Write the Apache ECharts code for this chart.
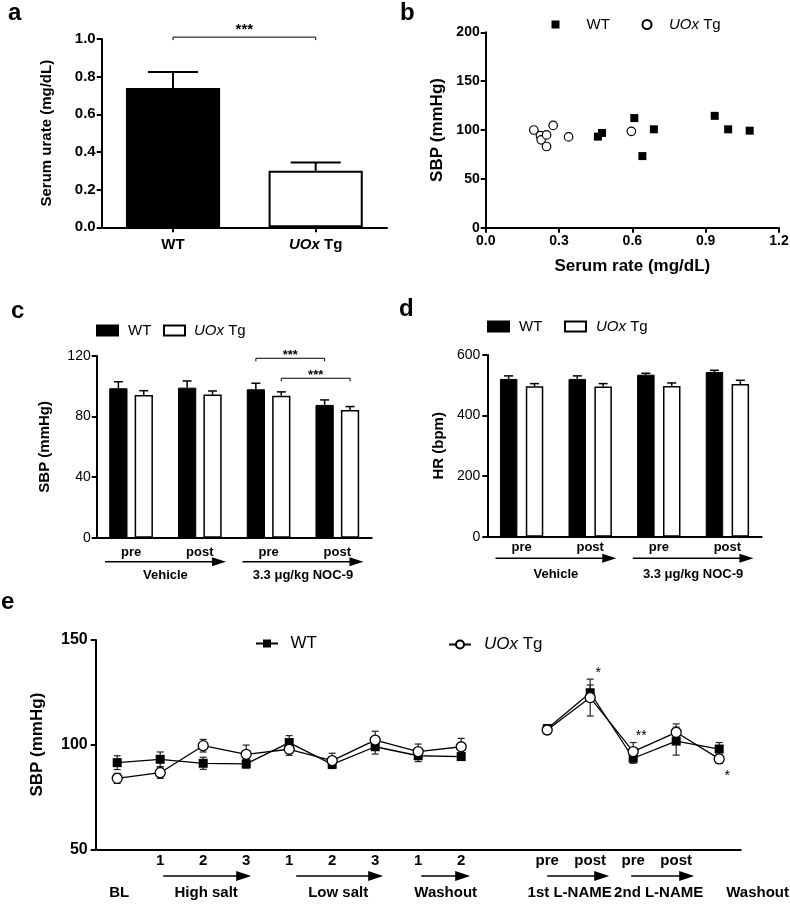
<!DOCTYPE html>
<html><head><meta charset="utf-8">
<script src="https://cdn.jsdelivr.net/npm/echarts@6/dist/echarts.min.js"></script>
<style>html,body{margin:0;padding:0;background:#fff}#c{width:790px;height:904px}</style>
</head><body><div id="c"></div>
<script>
// ---------------- DATA ----------------
// Panel a
const aCategories = ['WT', 'UOx Tg'];
const aMeans = [0.74, 0.30];
const aSEM = [0.085, 0.044];
const aSig = [[0, 1, 1.01, '***']];

// Panel b
const bWT_urate = [0.459, 0.476, 0.608, 0.641, 0.688, 0.937, 0.992, 1.080];
const bWT_sbp   = [93.2, 97.0, 112.2, 73.3, 100.7, 114.5, 100.7, 99.3];
const bTg_urate = [0.197, 0.224, 0.227, 0.249, 0.249, 0.276, 0.339, 0.596];
const bTg_sbp   = [100.0, 94.3, 89.9, 95.0, 83.1, 104.7, 92.9, 98.6];

// Panels c and d
const cdTickLabels = ['pre', 'post', 'pre', 'post'];
const cdGroups = [['Vehicle', 0, 1], ['3.3 \u03bcg/kg NOC-9', 2, 3]];
const cWT = [98.7, 99.1, 98.0, 87.7];
const cWT_sem = [4.3, 4.4, 4.0, 3.3];
const cTg = [94.3, 94.5, 93.8, 84.4];
const cTg_sem = [2.8, 2.4, 2.5, 2.2];
const cSig = [[2, 3, 118.5, -1, '***'], [2, 3, 105.3, 1, '***']];
const dWT = [521, 521, 535, 544];
const dWT_sem = [10, 10, 4.6, 5.5];
const dTg = [496.7, 495.6, 497.8, 504.4];
const dTg_sem = [8.8, 9.9, 9.9, 12.1];

// Panel e
const eTickLabels = ['', '1', '2', '3', '1', '2', '3', '1', '2', '', 'pre', 'post', 'pre', 'post', ''];
const eWT     = [91.4, 93.0, 91.1, 90.8, 101.0, 90.6, 99.0, 94.7, 94.3, null, 107.6, 124.8, 93.5, 101.7, 97.9];
const eWT_sem = [3.3, 3.5, 2.9, 2.0, 3.3, 2.0, 3.5, 2.8, 1.5, null, 2.0, 3.7, 2.4, 6.7, 3.1];
const eTg     = [83.9, 86.6, 99.5, 95.4, 97.8, 92.4, 102.2, 96.7, 99.0, null, 107.0, 122.5, 96.7, 105.9, 93.2];
const eTg_sem = [2.4, 2.7, 3.0, 4.4, 2.9, 3.5, 4.2, 3.6, 4.0, null, 2.0, 8.8, 4.3, 4.0, 2.0];
const eGroups = [['BL', 0, 0, false], ['High salt', 1, 3, true], ['Low salt', 4, 6, true], ['Washout', 7, 8, true],
                 ['1st L-NAME', 10, 11, true], ['2nd L-NAME', 12, 13, true], ['Washout', 14, 14, false]];
const eSig = [['*', 11, 135.7], ['**', 12, 105.4], ['*', 14, 86.6]];

// ---------------- STYLE / LAYOUT ----------------
const FONT = '"Liberation Sans", Arial, Helvetica, sans-serif';
const BLK = '#000';
// pixel nudges for e group arrows/labels: [arrowStart, arrowEnd, labelDx, align]
const eLayout = [[0,0,2,'center'],[3,5,3,'center'],[7,8,6,'center'],[3,9,6,'center'],[0,19,1,'center'],[-2,18,4,'center'],[0,0,7,'left']];

function merge(a, b) {
  const o = Object.assign({}, a);
  for (const k in b) {
    if (b[k] && typeof b[k] === 'object' && !Array.isArray(b[k]) && a[k] && typeof a[k] === 'object' && !Array.isArray(a[k])) o[k] = merge(a[k], b[k]);
    else o[k] = b[k];
  }
  return o;
}
function axisBase(gi) {
  return {
    gridIndex: gi,
    axisLine: {show: true, onZero: false, lineStyle: {color: BLK, width: 2}},
    axisTick: {show: true, length: 5, inside: false, lineStyle: {color: BLK, width: 2}},
    axisLabel: {color: BLK, fontFamily: FONT, fontWeight: 'bold', fontSize: 15, margin: 6},
    splitLine: {show: false},
    nameTextStyle: {color: BLK, fontFamily: FONT, fontWeight: 'bold', fontSize: 15},
    nameMoveOverlap: false
  };
}
const italicRich = (fs, fw) => ({i: {fontStyle: 'italic', fontWeight: fw, fontSize: fs, fontFamily: FONT, color: BLK}});
function labelFor(n) { return n.indexOf('Tg') >= 0 ? '{i|UOx} Tg' : 'WT'; }

function txt(text, x, y, fs, align, weight) {
  return {type: 'text', x: x, y: y, style: {text: text, fill: BLK, fontSize: fs, fontFamily: FONT, fontWeight: weight || 'bold', align: align || 'center', verticalAlign: 'middle'}};
}
function arrow(x1, x2, y, head, half, lw) {
  return [
    {type: 'line', shape: {x1: x1, y1: y, x2: x2 - head + 1, y2: y}, style: {stroke: BLK, lineWidth: lw}},
    {type: 'polygon', shape: {points: [[x2 - head, y - half], [x2, y], [x2 - head, y + half]]}, style: {fill: BLK}}
  ];
}

// error bars for grouped bars (upward only)
function barErr(gi, vals, sems, side, frac, gapFrac, capW, lw) {
  return {
    type: 'custom', xAxisIndex: gi, yAxisIndex: gi, z: 3, silent: true, clip: false,
    data: vals.map((v, i) => [i, v, sems[i]]),
    renderItem: function (params, api) {
      const i = api.value(0), v = api.value(1), s = api.value(2);
      const p = api.coord([i, v]), t = api.coord([i, v + s]);
      const cw = api.size([1, 0])[0];
      const w = frac * cw;
      const x = p[0] + side * (w + w * gapFrac) / 2;
      return {type: 'group', children: [
        {type: 'line', shape: {x1: x, y1: p[1], x2: x, y2: t[1]}, style: {stroke: BLK, lineWidth: lw}},
        {type: 'line', shape: {x1: x - capW / 2, y1: t[1], x2: x + capW / 2, y2: t[1]}, style: {stroke: BLK, lineWidth: lw}}
      ]};
    }
  };
}
// symmetric error bars for line chart
function lineErr(gi, vals, sems, capW, lw) {
  const data = [];
  vals.forEach((v, i) => { if (v != null) data.push([i, v, sems[i]]); });
  return {
    type: 'custom', xAxisIndex: gi, yAxisIndex: gi, z: 2, silent: true, clip: false, data: data,
    renderItem: function (params, api) {
      const i = api.value(0), v = api.value(1), s = api.value(2);
      const t = api.coord([i, v + s]), b = api.coord([i, v - s]);
      const x = t[0];
      return {type: 'group', children: [
        {type: 'line', shape: {x1: x, y1: t[1], x2: x, y2: b[1]}, style: {stroke: '#222', lineWidth: lw}},
        {type: 'line', shape: {x1: x - capW / 2, y1: t[1], x2: x + capW / 2, y2: t[1]}, style: {stroke: '#222', lineWidth: lw}},
        {type: 'line', shape: {x1: x - capW / 2, y1: b[1], x2: x + capW / 2, y2: b[1]}, style: {stroke: '#222', lineWidth: lw}}
      ]};
    }
  };
}
// group arrows + labels under c/d
function cdDeco(gi, arrowDy, labelDy) {
  return {
    type: 'custom', xAxisIndex: gi, yAxisIndex: gi, z: 3, silent: true, clip: false,
    data: cdGroups.map(g => [g[1], 0]),
    renderItem: function (params, api) {
      const g = cdGroups[params.dataIndex];
      const cw = api.size([1, 0])[0];
      const p1 = api.coord([g[1], 0]), p2 = api.coord([g[2], 0]);
      const y0 = p1[1];
      const ch = arrow(p1[0] - 0.38 * cw, p2[0] + 0.38 * cw, y0 + arrowDy, 14, 4.5, 1.4);
      ch.push(txt(g[0], (p1[0] + p2[0]) / 2, y0 + labelDy, 13));
      return {type: 'group', children: ch};
    }
  };
}

const option = {
  animation: false,
  backgroundColor: '#fff',
  textStyle: {fontFamily: FONT},
  title: [
    {text: 'a', left: 8, top: 1},
    {text: 'b', left: 400, top: 1},
    {text: 'c', left: 11, top: 299},
    {text: 'd', left: 399, top: 297},
    {text: 'e', left: 1, top: 590}
  ].map(t => Object.assign(t, {padding: 0, textStyle: {fontSize: 24, fontWeight: 'bold', fontFamily: FONT, color: BLK}})),
  grid: [
    {left: 101.7, top: 39, width: 285.3, height: 188.3},
    {left: 485.7, top: 32.3, width: 293.3, height: 195.4},
    {left: 96.7, top: 356, width: 275, height: 181.7},
    {left: 487.3, top: 355, width: 274.4, height: 181.7},
    {left: 95.7, top: 640, width: 645, height: 209.3}
  ].map(g => Object.assign({containLabel: false, outerBoundsMode: 'none'}, g)),
  xAxis: [
    merge(axisBase(0), {type: 'category', data: aCategories,
      axisTick: {alignWithLabel: true},
      axisLabel: {margin: 10, formatter: v => v === 'UOx Tg' ? '{i|UOx} Tg' : v, rich: italicRich(15, 'bold')}}),
    merge(axisBase(1), {type: 'value', min: 0, max: 1.2, interval: 0.3,
      axisLabel: {fontSize: 14, formatter: v => v.toFixed(1)},
      name: 'Serum rate (mg/dL)', nameLocation: 'middle', nameGap: 30, nameTextStyle: {fontSize: 17}}),
    merge(axisBase(2), {type: 'category', data: cdTickLabels.map((_, i) => 'c' + i),
      axisTick: {show: false},
      axisLabel: {fontSize: 13, margin: 8, interval: 0, formatter: (v, i) => cdTickLabels[i]}}),
    merge(axisBase(3), {type: 'category', data: cdTickLabels.map((_, i) => 'd' + i),
      axisTick: {show: false},
      axisLabel: {fontSize: 13, margin: 4, interval: 0, formatter: (v, i) => cdTickLabels[i]}}),
    merge(axisBase(4), {type: 'category', data: eTickLabels.map((_, i) => 'e' + i),
      axisTick: {show: false},
      axisLabel: {fontSize: 15, margin: 4, interval: 0, formatter: (v, i) => eTickLabels[i]}})
  ],
  yAxis: [
    merge(axisBase(0), {type: 'value', min: 0, max: 1, interval: 0.2,
      axisLabel: {formatter: v => v.toFixed(1)},
      name: 'Serum urate (mg/dL)', nameLocation: 'middle', nameRotate: 90, nameGap: 47}),
    merge(axisBase(1), {type: 'value', min: 0, max: 200, interval: 50,
      axisLabel: {fontSize: 14},
      name: 'SBP (mmHg)', nameLocation: 'middle', nameRotate: 90, nameGap: 40, nameTextStyle: {fontSize: 17}}),
    merge(axisBase(2), {type: 'value', min: 0, max: 120, interval: 40,
      axisLabel: {fontWeight: 'normal', fontSize: 14},
      name: 'SBP (mmHg)', nameLocation: 'middle', nameRotate: 90, nameGap: 44}),
    merge(axisBase(3), {type: 'value', min: 0, max: 600, interval: 200,
      axisLabel: {fontWeight: 'normal', fontSize: 14, margin: 7},
      name: 'HR (bpm)', nameLocation: 'middle', nameRotate: 90, nameGap: 41}),
    merge(axisBase(4), {type: 'value', min: 50, max: 150, interval: 50,
      axisLabel: {fontSize: 16, margin: 8},
      name: 'SBP (mmHg)', nameLocation: 'middle', nameRotate: 90, nameGap: 50, nameTextStyle: {fontSize: 17}})
  ],
  legend: [
    ['WT_b', 551.5, 17, 8, 8, 15, 22, null],
    ['Tg_b', 641.5, 17, 9, 9, 15, 12.5, null],
    ['WT_c', 96, 323, 21, 10, 15, 5, 'rect'],
    ['Tg_c', 163, 323, 21, 10, 15, 4, 'rect'],
    ['WT_d', 487, 319, 21, 10, 15, 5, 'rect'],
    ['Tg_d', 564, 319, 21, 10, 15, 5, 'rect'],
    ['WT_e', 255, 635, 22, 10, 17, 7.5, null],
    ['Tg_e', 448, 636, 22, 10, 17, 8, null]
  ].map(l => {
    const o = {show: true, data: [l[0]], left: l[1], top: l[2], padding: 0, itemWidth: l[3], itemHeight: l[4],
      selectedMode: false, formatter: n => '{s|}' + labelFor(n),
      textStyle: {color: BLK, fontFamily: FONT, fontSize: l[5], rich: Object.assign({s: {width: l[6]}}, italicRich(l[5], 'normal'))}};
    if (l[7]) o.icon = l[7];
    return o;
  }),
  series: [
    // ---- a ----
    {type: 'bar', xAxisIndex: 0, yAxisIndex: 0, barWidth: '66%', silent: true,
      data: aMeans.map((v, i) => ({value: v, itemStyle: i === 0 ? {color: BLK} : {color: '#fff', borderColor: BLK, borderWidth: 2}}))},
    barErr(0, aMeans, aSEM, 0, 0.66, 0, 50, 2),
    {type: 'custom', xAxisIndex: 0, yAxisIndex: 0, z: 3, silent: true, clip: false,
      data: aSig.map(s => [s[0], s[2]]),
      renderItem: function (params, api) {
        const s = aSig[params.dataIndex];
        const p1 = api.coord([s[0], s[2]]), p2 = api.coord([s[1], s[2]]);
        return {type: 'group', children: [
          {type: 'polyline', shape: {points: [[p1[0], p1[1] + 3], [p1[0], p1[1]], [p2[0], p1[1]], [p2[0], p1[1] + 3]]}, style: {stroke: BLK, lineWidth: 1, fill: null}},
          txt(s[3], (p1[0] + p2[0]) / 2, p1[1] - 10 + 3, 15)
        ]};
      }},
    // ---- b ----
    {type: 'scatter', name: 'WT_b', xAxisIndex: 1, yAxisIndex: 1, symbol: 'rect', symbolSize: 8, silent: true,
      itemStyle: {color: BLK, opacity: 1}, data: bWT_urate.map((x, i) => [x, bWT_sbp[i]])},
    {type: 'scatter', name: 'Tg_b', xAxisIndex: 1, yAxisIndex: 1, symbol: 'circle', symbolSize: 8.5, silent: true,
      itemStyle: {color: '#fff', borderColor: BLK, borderWidth: 1.2, opacity: 1}, data: bTg_urate.map((x, i) => [x, bTg_sbp[i]])},
    // ---- c ----
    {type: 'bar', name: 'WT_c', xAxisIndex: 2, yAxisIndex: 2, data: cWT, barWidth: '26.6%', barGap: '39%', silent: true,
      itemStyle: {color: BLK, borderColor: BLK, borderWidth: 1}},
    {type: 'bar', name: 'Tg_c', xAxisIndex: 2, yAxisIndex: 2, data: cTg, barWidth: '26.6%', barGap: '39%', silent: true,
      itemStyle: {color: '#fff', borderColor: BLK, borderWidth: 1.5}},
    barErr(2, cWT, cWT_sem, -1, 0.266, 0.39, 9, 1.5),
    barErr(2, cTg, cTg_sem, 1, 0.266, 0.39, 9, 1.5),
    cdDeco(2, 24, 37.3),
    {type: 'custom', xAxisIndex: 2, yAxisIndex: 2, z: 3, silent: true, clip: false,
      data: cSig.map(s => [s[0], s[2]]),
      renderItem: function (params, api) {
        const s = cSig[params.dataIndex];
        const cw = api.size([1, 0])[0];
        const w = 0.266 * cw, off = s[3] * (w + w * 0.39) / 2;
        const p1 = api.coord([s[0], s[2]]), p2 = api.coord([s[1], s[2]]);
        const x1 = p1[0] + off, x2 = p2[0] + off, y = p1[1];
        return {type: 'group', children: [
          {type: 'polyline', shape: {points: [[x1, y + 3], [x1, y], [x2, y], [x2, y + 3]]}, style: {stroke: BLK, lineWidth: 1, fill: null}},
          txt(s[4], (x1 + x2) / 2, y - 6 + 3, 13)
        ]};
      }},
    // ---- d ----
    {type: 'bar', name: 'WT_d', xAxisIndex: 3, yAxisIndex: 3, data: dWT, barWidth: '25.5%', barGap: '48%', silent: true,
      itemStyle: {color: BLK, borderColor: BLK, borderWidth: 1}},
    {type: 'bar', name: 'Tg_d', xAxisIndex: 3, yAxisIndex: 3, data: dTg, barWidth: '25.5%', barGap: '48%', silent: true,
      itemStyle: {color: '#fff', borderColor: BLK, borderWidth: 1.5}},
    barErr(3, dWT, dWT_sem, -1, 0.255, 0.48, 9, 1.5),
    barErr(3, dTg, dTg_sem, 1, 0.255, 0.48, 9, 1.5),
    cdDeco(3, 21.6, 37.3),
    // ---- e ----
    lineErr(4, eWT, eWT_sem, 7, 1.2),
    lineErr(4, eTg, eTg_sem, 7, 1.2),
    {type: 'line', name: 'WT_e', xAxisIndex: 4, yAxisIndex: 4, data: eWT, z: 3, silent: true,
      symbol: 'rect', symbolSize: 9, showSymbol: true, showAllSymbol: true, connectNulls: false,
      lineStyle: {color: BLK, width: 1.3}, itemStyle: {color: BLK}},
    {type: 'line', name: 'Tg_e', xAxisIndex: 4, yAxisIndex: 4, data: eTg, z: 4, silent: true,
      symbol: 'circle', symbolSize: 10, showSymbol: true, showAllSymbol: true, connectNulls: false,
      lineStyle: {color: BLK, width: 1.3}, itemStyle: {color: '#fff', borderColor: BLK, borderWidth: 1.3}},
    {type: 'custom', xAxisIndex: 4, yAxisIndex: 4, z: 5, silent: true, clip: false,
      data: eSig.map(s => [s[1], s[2]]),
      renderItem: function (params, api) {
        const s = eSig[params.dataIndex];
        const p = api.coord([s[1], s[2]]);
        return txt(s[0], p[0] + 8, p[1] + 3, 14, 'center', 'normal');
      }},
    {type: 'custom', xAxisIndex: 4, yAxisIndex: 4, z: 3, silent: true, clip: false,
      data: eGroups.map(g => [g[1], 50]),
      renderItem: function (params, api) {
        const g = eGroups[params.dataIndex], L = eLayout[params.dataIndex];
        const p1 = api.coord([g[1], 50]), p2 = api.coord([g[2], 50]);
        const y0 = p1[1];
        const ch = g[3] ? arrow(p1[0] + L[0], p2[0] + L[1], y0 + 26.7, 15, 5, 1.4) : [];
        ch.push(txt(g[0], (p1[0] + p2[0]) / 2 + L[2], y0 + 43.4, 15, L[3]));
        return {type: 'group', children: ch};
      }}
  ]
};

const chart = echarts.init(document.getElementById('c'), null, {renderer: 'canvas', width: 790, height: 904});
chart.setOption(option);
</script>
</body></html>
